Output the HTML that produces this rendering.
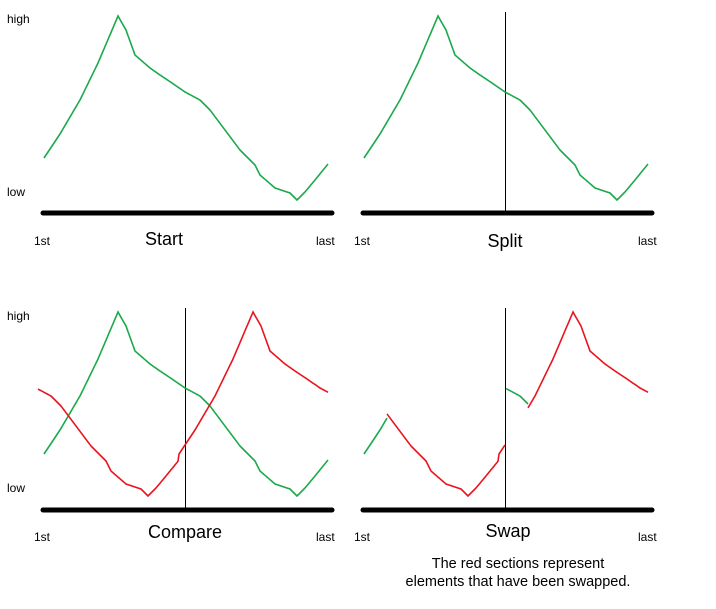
<!DOCTYPE html>
<html><head><style>
html,body{margin:0;padding:0;background:#fff;}
svg{display:block;font-family:"Liberation Sans",Arial,sans-serif;}
</style></head><body>
<svg id="s" width="716" height="609" xmlns="http://www.w3.org/2000/svg">
<g font-size="12" fill="#000">
<text x="7" y="23">high</text><text x="7" y="196">low</text>
<text x="34" y="245">1st</text><text x="316" y="245">last</text>
<text x="354" y="245">1st</text><text x="638" y="245">last</text>
<text x="7" y="320">high</text><text x="7" y="492">low</text>
<text x="34" y="541">1st</text><text x="316" y="541">last</text>
<text x="354" y="541">1st</text><text x="638" y="541">last</text>
</g>
<g font-size="18" text-anchor="middle">
<text x="164" y="245">Start</text><text x="505" y="247">Split</text>
<text x="185" y="538">Compare</text><text x="508" y="537">Swap</text>
</g>
<g font-size="14.5" text-anchor="middle">
<text x="518" y="568">The red sections represent</text>
<text x="518" y="586">elements that have been swapped.</text>
</g>
<g stroke="#000" stroke-width="5" stroke-linecap="round">
<line x1="43" y1="213" x2="332" y2="213"/><line x1="363" y1="213" x2="652" y2="213"/>
<line x1="43" y1="510" x2="332" y2="510"/><line x1="363" y1="510" x2="652" y2="510"/>
</g>
<g stroke="#000" stroke-width="1">
<line x1="505.5" y1="12" x2="505.5" y2="212"/>
<line x1="185.5" y1="308" x2="185.5" y2="508"/>
<line x1="505.5" y1="308" x2="505.5" y2="508"/>
</g>
<g id="curves" fill="none" stroke-width="1.6"></g>
</svg>
<script>
var P=[[44,158],[60,134],[80,100],[98,63],[118,16],[126,30],[135,55],[150,68],[160,75],[172,83],[185,92],[200,100],[210,110],[225,130],[240,150],[255,165],[260,175],[275,188],[290,193],[297,200],[305,192],[315,180],[328,164]];
function G(x){for(var i=0;i<P.length-1;i++){if(x<=P[i+1][0]){var a=P[i],b=P[i+1];return a[1]+(b[1]-a[1])*(x-a[0])/(b[0]-a[0]);}}return P[P.length-1][1];}
function W(x){while(x<44)x+=284;while(x>328)x-=284;return x;}
function R(x){return G(W(x-135));}
var g=document.getElementById('curves');
function seg(f,x0,x1,dx,dy,col){var d='';for(var x=x0;x<=x1;x+=1){d+=(d?'L':'M')+(x+dx)+','+(f(x)+dy).toFixed(1);}
var p=document.createElementNS('http://www.w3.org/2000/svg','path');p.setAttribute('d',d);p.setAttribute('stroke',col);g.appendChild(p);}
var GR='#1aaa4a',RD='#e8141e';
seg(G,44,328,0,0,GR);
seg(G,44,328,320,0,GR);
seg(G,44,328,0,296,GR);
seg(R,38,328,0,296,RD);
seg(G,44,67,320,296,GR);
seg(R,67,185,320,296,RD);
seg(G,186,208,320,296,GR);
seg(R,208,328,320,296,RD);
</script>
</body></html>
